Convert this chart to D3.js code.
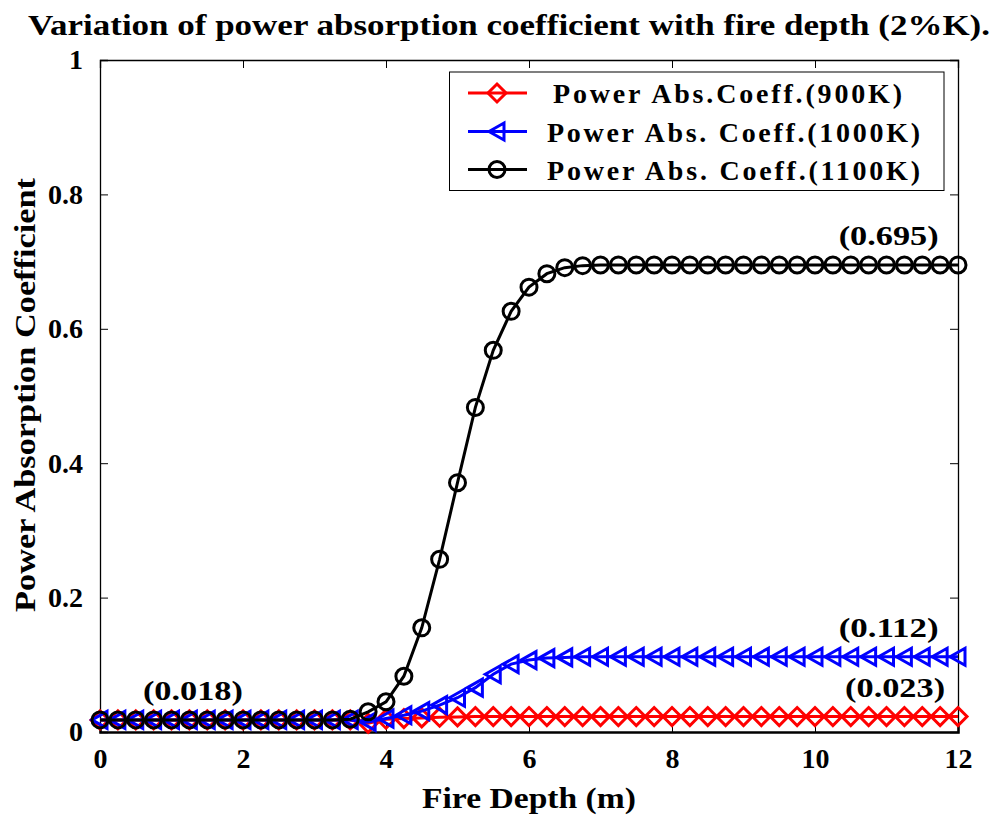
<!DOCTYPE html>
<html>
<head>
<meta charset="utf-8">
<script src="https://cdn.jsdelivr.net/npm/d3@7"></script>
<style>
  html, body { margin: 0; padding: 0; background: #fff; }
  svg { display: block; }
  text { font-family: "Liberation Serif", "Times New Roman", serif; font-weight: bold; fill: #000; }
</style>
</head>
<body>
<svg id="chart" width="998" height="815"></svg>
<script>
// Fire depth grid (m)
const depth = [0, 0.25, 0.5, 0.75, 1, 1.25, 1.5, 1.75, 2, 2.25, 2.5, 2.75, 3, 3.25, 3.5, 3.75,
  4, 4.25, 4.5, 4.75, 5, 5.25, 5.5, 5.75, 6, 6.25, 6.5, 6.75, 7, 7.25, 7.5, 7.75, 8, 8.25,
  8.5, 8.75, 9, 9.25, 9.5, 9.75, 10, 10.25, 10.5, 10.75, 11, 11.25, 11.5, 11.75, 12];

// Power absorption coefficient, 900 K
const coeff900 = [0.018, 0.018, 0.018, 0.018, 0.018, 0.018, 0.018, 0.018, 0.018, 0.018, 0.018,
  0.018, 0.018, 0.018, 0.018, 0.013, 0.019, 0.020, 0.021, 0.022, 0.0225, 0.023, 0.023, 0.023,
  0.023, 0.023, 0.023, 0.023, 0.023, 0.023, 0.023, 0.023, 0.023, 0.023, 0.023, 0.023, 0.023,
  0.023, 0.023, 0.023, 0.023, 0.023, 0.023, 0.023, 0.023, 0.023, 0.023, 0.023, 0.023];

// Power absorption coefficient, 1000 K
const coeff1000 = [0.018, 0.018, 0.018, 0.018, 0.018, 0.018, 0.018, 0.018, 0.018, 0.018, 0.018,
  0.018, 0.018, 0.018, 0.018, 0.015, 0.020, 0.025, 0.031, 0.040, 0.051, 0.066, 0.086, 0.101,
  0.107, 0.110, 0.111, 0.112, 0.112, 0.112, 0.112, 0.112, 0.112, 0.112, 0.112, 0.112, 0.112,
  0.112, 0.112, 0.112, 0.112, 0.112, 0.112, 0.112, 0.112, 0.112, 0.112, 0.112, 0.112];

// Power absorption coefficient, 1100 K
const coeff1100 = [0.018, 0.018, 0.018, 0.018, 0.018, 0.018, 0.018, 0.018, 0.018, 0.018, 0.018,
  0.018, 0.018, 0.018, 0.019, 0.030, 0.045, 0.083, 0.155, 0.257, 0.371, 0.483, 0.568, 0.626,
  0.662, 0.682, 0.691, 0.694, 0.695, 0.695, 0.695, 0.695, 0.695, 0.695, 0.695, 0.695, 0.695,
  0.695, 0.695, 0.695, 0.695, 0.695, 0.695, 0.695, 0.695, 0.695, 0.695, 0.695, 0.695];

const xTicks = [0, 2, 4, 6, 8, 10, 12];
const yTicks = [0, 0.2, 0.4, 0.6, 0.8, 1];

const seriesNames = ["Power Abs.Coeff.(900K)", "Power Abs. Coeff.(1000K)", "Power Abs. Coeff.(1100K)"];
const seriesColors = ["#ff0000", "#0000ff", "#000000"];
const seriesMarkers = ["diamond", "triangleLeft", "circle"];

// Value annotations
const noteX = [1.3, 11.03, 11.03, 11.12];
const noteY = [0.018, 0.695, 0.112, 0.023];
const noteText = ["(0.018)", "(0.695)", "(0.112)", "(0.023)"];

const svg = d3.select("#chart");
const plot = { left: 100, right: 958, top: 60, bottom: 732 };

const x = d3.scaleLinear().domain([0, 12]).range([plot.left, plot.right]);
const y = d3.scaleLinear().domain([0, 1]).range([plot.bottom, plot.top]);

// Title
svg.append("text")
  .attr("x", 28).attr("y", 35)
  .attr("font-size", 30)
  .attr("textLength", 962).attr("lengthAdjust", "spacingAndGlyphs")
  .text("Variation of power absorption coefficient with fire depth (2%K).");

// Axes (ticks drawn inward, box around the plot)
const gx = svg.append("g").attr("transform", `translate(0,${plot.bottom})`)
  .call(d3.axisBottom(x).tickValues(xTicks).tickSize(-8).tickPadding(16).tickFormat(d3.format("d")));
const gxTop = svg.append("g").attr("transform", `translate(0,${plot.top})`)
  .call(d3.axisTop(x).tickValues(xTicks).tickSize(-8).tickFormat(""));
const gy = svg.append("g").attr("transform", `translate(${plot.left},0)`)
  .call(d3.axisLeft(y).tickValues(yTicks).tickSize(-8).tickPadding(17)
    .tickFormat(d => (d === 0 || d === 1) ? d3.format("d")(d) : d3.format(".1f")(d)));
const gyRight = svg.append("g").attr("transform", `translate(${plot.right},0)`)
  .call(d3.axisRight(y).tickValues(yTicks).tickSize(-8).tickFormat(""));

[gx, gxTop, gy, gyRight].forEach(g => {
  g.attr("font-size", 28).attr("font-family", "Liberation Serif, Times New Roman, serif");
  g.select(".domain").attr("stroke", "#000").attr("stroke-width", 1.3);
  g.selectAll(".tick line").attr("stroke", "#000").attr("stroke-width", 1);
  g.selectAll(".tick text")
    .style("font-size", "28px").style("font-weight", "bold").attr("fill", "#000");
});
gx.select(".domain").attr("stroke-width", 2.5);

// Axis labels
svg.append("text")
  .attr("x", 529).attr("y", 808)
  .attr("text-anchor", "middle").attr("font-size", 29)
  .attr("textLength", 214).attr("lengthAdjust", "spacingAndGlyphs")
  .text("Fire Depth (m)");
svg.append("text")
  .attr("transform", "translate(35,395) rotate(-90)")
  .attr("text-anchor", "middle").attr("font-size", 29)
  .attr("textLength", 434).attr("lengthAdjust", "spacingAndGlyphs")
  .text("Power Absorption Coefficient");

// Marker shapes
function markerPath(kind) {
  if (kind === "diamond") return "M0,-9L9,0L0,9L-9,0Z";
  if (kind === "triangleLeft") return "M-8,0L7,-8.5L7,8.5Z";
  return d3.arc()({ innerRadius: 0, outerRadius: 8, startAngle: 0, endAngle: 2 * Math.PI });
}

const line = d3.line().x((d, i) => x(depth[i])).y(d => y(d));
const series = [coeff900, coeff1000, coeff1100];

series.forEach((vals, s) => {
  const g = svg.append("g");
  g.append("path")
    .attr("d", line(vals))
    .attr("fill", "none")
    .attr("stroke", seriesColors[s])
    .attr("stroke-width", 3);
  g.selectAll("path.m").data(vals).join("path")
    .attr("class", "m")
    .attr("transform", (d, i) => `translate(${x(depth[i])},${y(d)})`)
    .attr("d", markerPath(seriesMarkers[s]))
    .attr("fill", "none")
    .attr("stroke", seriesColors[s])
    .attr("stroke-width", 3);
});

// Value annotations
noteText.forEach((t, i) => {
  svg.append("text")
    .attr("x", x(noteX[i])).attr("y", y(noteY[i]) - 20)
    .attr("text-anchor", "middle").attr("font-size", 28)
    .attr("textLength", 100).attr("lengthAdjust", "spacingAndGlyphs")
    .text(t);
});

// Legend
const legend = svg.append("g");
legend.append("rect")
  .attr("x", 449.5).attr("y", 72).attr("width", 494.5).attr("height", 118.5)
  .attr("fill", "#fff").attr("stroke", "#000").attr("stroke-width", 1);
const rowY = [93, 131.5, 169.5];
const textX = [553, 547, 547];
const textW = [349, 373, 373];
seriesNames.forEach((name, s) => {
  legend.append("line")
    .attr("x1", 468).attr("x2", 527).attr("y1", rowY[s]).attr("y2", rowY[s])
    .attr("stroke", seriesColors[s]).attr("stroke-width", 3);
  legend.append("path")
    .attr("transform", `translate(497,${rowY[s]})`)
    .attr("d", markerPath(seriesMarkers[s]))
    .attr("fill", "none").attr("stroke", seriesColors[s]).attr("stroke-width", 3);
  legend.append("text")
    .attr("x", textX[s]).attr("y", rowY[s] + 10)
    .attr("font-size", 28)
    .attr("textLength", textW[s]).attr("lengthAdjust", "spacing")
    .text(name);
});
</script>
</body>
</html>
